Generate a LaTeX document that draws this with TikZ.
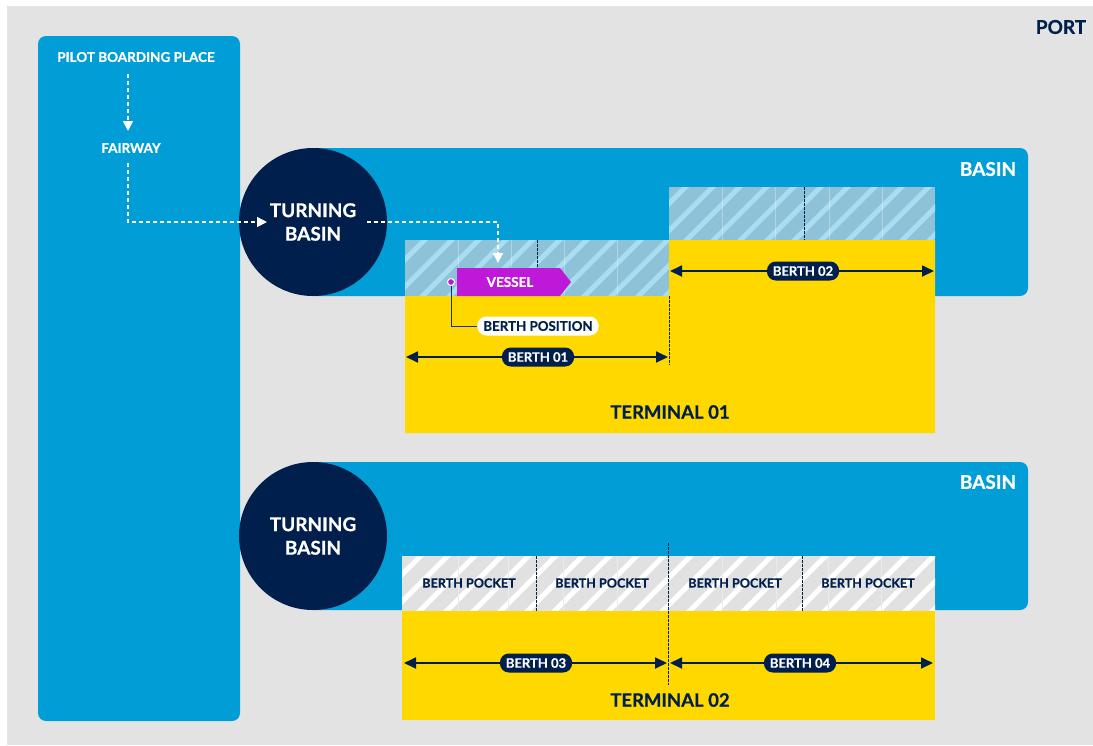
\documentclass[tikz,border=0pt]{standalone}
\usepackage{fontspec}
\setmainfont{Lato}[BoldFeatures={FakeBold=0.6}]
\usetikzlibrary{arrows.meta}
\definecolor{bggrey}{RGB}{227,227,227}
\definecolor{sea}{RGB}{0,157,214}
\definecolor{navy}{RGB}{0,31,77}
\definecolor{land}{RGB}{255,216,0}
\definecolor{hbase}{RGB}{142,194,217}
\definecolor{hstripe}{RGB}{170,221,240}
\definecolor{pbase}{RGB}{225,225,225}
\definecolor{vcol}{RGB}{190,24,216}
% hatched strip: x1, y1 (top), x2, y2 (bottom, extended under the quay), base, stripe
\newcommand{\stripebox}[6]{%
  \begin{scope}
    \clip (#1,#2) rectangle (#3,#4);
    \fill[#5] (#1,#2) rectangle (#3,#4);
    \foreach \s in {-80,-53,...,560}
      \fill[#6] ({#1+\s},{#4+10}) -- ++(7,0) -- ++(80,-80) -- ++(-7,0) -- cycle;
  \end{scope}}
\tikzset{
  f13/.style={font=\bfseries\fontsize{13.5}{15}\selectfont},
  wtext/.style={text=white, inner sep=0pt},
  ntext/.style={text=navy, inner sep=0pt},
  bigw/.style={wtext, font=\bfseries\fontsize{19}{22}\selectfont},
  bign/.style={ntext, font=\bfseries\fontsize{18.5}{22}\selectfont},
  pocket/.style={ntext, font=\bfseries\fontsize{12.6}{14}\selectfont},
  tbasin/.style={circle, fill=navy, minimum size=148pt, inner sep=0pt, text=white, align=center, font=\bfseries\fontsize{19}{23.5}\selectfont},
  route/.style={white, line width=1.6pt, dash pattern=on 4pt off 3pt},
  rtip/.style={-{Triangle[width=10pt,length=10pt]}},
  berth/.style={navy, line width=1.8pt, {Triangle[width=11pt,length=12pt]}-{Triangle[width=11pt,length=12pt]}},
  pill/.style={fill=navy, text=white, rounded corners=9pt, minimum height=19pt, inner xsep=6pt, inner ysep=0pt, font=\bfseries\fontsize{13}{15}\selectfont},
  wpill/.style={fill=white, text=navy, rounded corners=9pt, minimum height=19pt, inner xsep=6pt, inner ysep=0pt, font=\bfseries\fontsize{13.3}{15}\selectfont},
  divider/.style={navy, line width=1pt, dash pattern=on 2.5pt off 1.5pt},
  seam/.style={white, opacity=0.3, line width=0.8pt},
  pseam/.style={black!8, line width=0.8pt},
}
\begin{document}
\begin{tikzpicture}[x=1pt,y=-1pt]
\fill[white] (0,0) rectangle (1093,745);
\useasboundingbox (0,0) rectangle (1093,745);
\fill[bggrey] (7,6) rectangle (1093,745);
% fairway channel
\fill[sea, rounded corners=8pt] (38,36) rectangle (240,721);
% upper basin
\fill[sea] (313,148) -- (1020,148) arc[start angle=-90,end angle=0,radius=8] -- (1028,288) arc[start angle=0,end angle=90,radius=8] -- (313,296) -- cycle;
\node[tbasin] (tb1) at (313,222) {TURNING\\BASIN};
% lower basin
\fill[sea] (313,462) -- (1020,462) arc[start angle=-90,end angle=0,radius=8] -- (1028,602) arc[start angle=0,end angle=90,radius=8] -- (313,610) -- cycle;
\node[tbasin] (tb2) at (313,536) {TURNING\\BASIN};
% labels
\node[ntext, font=\bfseries\fontsize{19}{22}\selectfont] (port) at (1061,27) {PORT};
\node[bigw] (basin1) at (988,169) {BASIN};
\node[bigw] (basin2) at (988,482) {BASIN};
\node[wtext,f13] (pbp) at (136,57) {PILOT BOARDING PLACE};
\node[wtext,f13] (fw) at (131,148) {FAIRWAY};

% terminal 01: hatched berth areas, then quay over their lower edge
\stripebox{405}{240}{669}{299}{hbase}{hstripe}
\stripebox{669}{187}{935}{243}{hbase}{hstripe}
\fill[land] (405,296) -- (669,296) -- (669,240) -- (935,240) -- (935,433) -- (405,433) -- cycle;
\foreach \x in {458,511,564,617} \draw[seam] (\x,240) -- (\x,296);
\foreach \x in {722,775,829,882} \draw[seam] (\x,187) -- (\x,240);
\draw[divider] (537,240) -- (537,268);
\draw[divider] (804,187) -- (804,240);
\draw[divider] (669,296) -- (669,365);

% vessel
\fill[vcol] (457,268) -- (560,268) -- (571,282) -- (560,296) -- (457,296) -- cycle;
\node[wtext,f13] (vessel) at (510,282) {VESSEL};
\node[wpill] (bpl) at (538,326) {BERTH POSITION};
\node[circle, fill=vcol, draw=white, line width=1pt, minimum size=7pt, inner sep=0pt] (bp) at (451,282) {};
\draw[navy!80!gray, line width=0.9pt] (bp) |- (bpl.west);

% berth arrows terminal 01
\coordinate (b1l) at (406,357);
\coordinate (b1r) at (668,357);
\draw[berth] (b1l) -- (b1r);
\node[pill] (berth1) at (538,357) {BERTH 01};
\coordinate (b2l) at (670,271);
\coordinate (b2r) at (934,271);
\draw[berth] (b2l) -- (b2r);
\node[pill] (berth2) at (803,271) {BERTH 02};
\node[bign] (term1) at (670,412) {TERMINAL 01};

% terminal 02
\stripebox{402}{556}{935}{614}{pbase}{white}
\fill[land] (402,611) rectangle (935,720);
\foreach \x in {458,508,563,617,722,776,828,881} \draw[pseam] (\x,556) -- (\x,611);
\draw[divider] (536,556) -- (536,611);
\draw[divider] (802,556) -- (802,611);
\draw[divider] (668,543) -- (668,685);
\node[pocket] (bp1) at (469,583) {BERTH POCKET};
\node[pocket] (bp2) at (602,583) {BERTH POCKET};
\node[pocket] (bp3) at (735,583) {BERTH POCKET};
\node[pocket] (bp4) at (868,583) {BERTH POCKET};
\coordinate (b3l) at (404,663);
\coordinate (b3r) at (667,663);
\draw[berth] (b3l) -- (b3r);
\node[pill] (berth3) at (536,663) {BERTH 03};
\coordinate (b4l) at (670,663);
\coordinate (b4r) at (933,663);
\draw[berth] (b4l) -- (b4r);
\node[pill] (berth4) at (800,663) {BERTH 04};
\node[bign] (term2) at (670,700) {TERMINAL 02};

% vessel route
\coordinate (r0) at (128,74);
\coordinate (r1) at (128,131);
\coordinate (r2) at (128,163);
\coordinate (r3) at (267,222);
\coordinate (r4) at (367,222);
\coordinate (r5) at (498,263);
\draw[route,rtip] (r0) -- (r1);
\draw[route,rtip] (r2) |- (r3);
\draw[route,rtip] (r4) -| (r5);
\end{tikzpicture}
\end{document}
